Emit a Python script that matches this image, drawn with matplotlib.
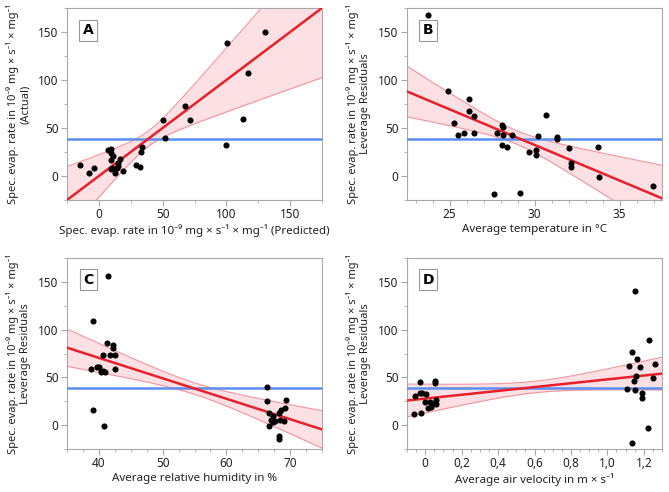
import numpy as np
import matplotlib
matplotlib.use("Agg")
import matplotlib.pyplot as plt
from matplotlib.ticker import MultipleLocator, FuncFormatter

plt.rcParams['font.family'] = ['Noto Sans', 'DejaVu Sans']

# A - actual by predicted plot
a_pred = [-15.1, -7.8, -3.9, 7.3, 9.8, 9.3, 11.0, 9.3, 9.6, 12.1, 12.9, 14.2, 15.3,
          16.8, 18.9, 15.2, 10.5, 29.0, 31.9, 33.1, 34.2, 50.2, 52.2, 67.7, 71.6,
          99.7, 100.5, 113.2, 116.8, 130.2]
a_actual = [11.1, 3.5, 8.0, 26.7, 28.4, 24.2, 20.8, 16.3, 6.9, 7.7, 3.5, 8.7, 13.9,
            18.0, 5.2, 10.4, 8.0, 11.4, 9.4, 25.0, 30.6, 57.9, 39.2, 72.8, 58.6,
            31.9, 138.6, 58.9, 106.8, 150.1]

# B - leverage plot, temperature
b_temp = [23.76, 24.9, 25.29, 25.49, 25.83, 26.15, 26.17, 26.44, 26.46, 27.8, 28.1,
          28.15, 28.15, 28.65, 28.1, 28.38, 27.62, 29.17, 29.7, 30.1, 30.1, 30.22,
          30.7, 31.3, 31.3, 32.05, 32.15, 32.15, 33.72, 33.82, 36.98]
b_resid = [168, 88.3, 55.4, 43, 44.7, 79.7, 67.9, 63, 44.3, 45, 53, 50.9, 43, 43,
           32.6, 30.5, -19, -17.3, 24.6, 26.7, 21.5, 41.6, 63.4, 40.9, 38.4, 29.1,
           13.9, 9, 30.1, -1.4, -10.7]

# C - leverage plot, relative humidity
c_hum = [41.46, 39.1, 38.7, 39.06, 39.74, 40.0, 40.26, 40.68, 40.94, 40.57, 41.2,
         41.72, 42.29, 42.29, 42.55, 42.6, 40.78,
         66.3, 66.3, 69.3, 66.67, 68.54, 69.2, 68.33, 67.24, 67.0, 67.34, 68.4,
         69.06, 66.67, 68.33, 68.33, 67.6]
c_resid = [156.6, 108.6, 58.5, 16, 61.3, 61.3, 55.7, 56.7, 56, 73.1, 86, 73.1, 83.5,
           80.8, 73.8, 59.2, -0.7,
           39.7, 25.4, 25.8, 13.2, 16, 18.4, 13.2, 9.7, 5.6, 2.8, 5.6, 3.8, -0.7,
           -11.1, -14.6, 4.5]

# D - leverage plot, air velocity
d_vel = [-0.027, 0.053, 0.053, -0.057, -0.027, -0.016, 0.002, 0.0, 0.029, 0.037,
         0.057, 0.057, 0.016, 0.031, -0.059, -0.022,
         1.152, 1.231, 1.137, 1.163, 1.117, 1.181, 1.26, 1.156, 1.249, 1.145, 1.11,
         1.154, 1.19, 1.19, 1.224, 1.136]
d_resid = [45.2, 46.3, 43.9, 30.6, 34.1, 33.4, 32.4, 24.7, 24.0, 22.3, 25.8, 21.6,
           17.8, 18.8, 11.8, 13.2,
           140.6, 89.1, 76.6, 69.3, 62.3, 60.6, 64.0, 51.9, 49.4, 45.9, 38.3, 37.2,
           33.4, 28.9, -3.5, -18.8]

mean_rate = 39.0

# fitted lines (intercept, slope)
a_fit = (0.0, 1.0)
b_fit = (255.0, -7.42)
c_fit = (156.0, -2.14)
d_fit = (27.8, 20.1)

# confidence curves (centre x, half width at centre, growth per x unit)
a_band = (39.0, 8.0, 0.53)
b_band = (28.95, 7.0, 3.94)
c_band = (55.0, 6.0, 0.93)
d_band = (0.6, 6.0, 23.0)

ylab1 = 'Spec. evap. rate in 10⁻⁹ mg × s⁻¹ × mg⁻¹'

fig = plt.figure(figsize=(6.69, 4.92), dpi=100)
W, H = 669, 492


def make_ax(l, t, r, b):
    return fig.add_axes([l / W, 1 - b / H, (r - l) / W, (b - t) / H])


def panel(ax, x, y, fit, band, xlim, xmajor, xminor, xlabel, ylab2, letter, comma=False):
    xs = np.linspace(xlim[0], xlim[1], 300)
    line = fit[0] + fit[1] * xs
    hw = np.sqrt(band[1] ** 2 + (band[2] * (xs - band[0])) ** 2)
    ax.fill_between(xs, line - hw, line + hw, color='#fde0e3', lw=0, zorder=1)
    ax.plot(xs, line - hw, color='#f4949c', lw=0.8, zorder=2)
    ax.plot(xs, line + hw, color='#f4949c', lw=0.8, zorder=2)
    ax.axhline(mean_rate, color='#5b8ef0', lw=1.8, zorder=3)
    ax.plot(xs, line, color='#e8202c', lw=1.8, zorder=4)
    ax.plot(x, y, 'o', color='black', ms=4.4, mec='none', zorder=5)

    ax.set_xlim(xlim)
    ax.set_ylim(-25, 175)
    ax.xaxis.set_major_locator(MultipleLocator(xmajor))
    ax.xaxis.set_minor_locator(MultipleLocator(xminor))
    ax.yaxis.set_major_locator(MultipleLocator(50))
    ax.yaxis.set_minor_locator(MultipleLocator(25))
    if comma:
        ax.xaxis.set_major_formatter(FuncFormatter(
            lambda v, p: '0' if abs(v) < 1e-9 else f'{v:.1f}'.replace('.', ',')))
    for s in ax.spines.values():
        s.set_color('#a8a8a8')
    ax.tick_params(which='major', length=4, color='#a8a8a8', labelsize=8.5,
                   labelcolor='#222222', pad=2)
    ax.tick_params(which='minor', length=2.5, color='#a8a8a8')
    ax.set_xlabel(xlabel, fontsize=8.3, color='#222222', labelpad=2)
    ax.set_ylabel(ylab1 + '\n' + ylab2, fontsize=8.0, color='#222222',
                  linespacing=1.15, labelpad=5)
    ax.text(0.083, 0.885, letter, transform=ax.transAxes, ha='center', va='center',
            fontsize=10, fontweight='bold', family='DejaVu Sans', zorder=6,
            bbox=dict(boxstyle='square,pad=0.25', fc='white', ec='#999999', lw=0.8))


axA = make_ax(67, 8, 322, 200)
axB = make_ax(407, 8, 662, 200)
axC = make_ax(67, 258, 322, 449)
axD = make_ax(407, 258, 662, 449)

panel(axA, a_pred, a_actual, a_fit, a_band, (-25, 175), 50, 25,
      'Spec. evap. rate in 10⁻⁹ mg × s⁻¹ × mg⁻¹ (Predicted)', '(Actual)', 'A')
panel(axB, b_temp, b_resid, b_fit, b_band, (22.5, 37.5), 5, 1,
      'Average temperature in °C', 'Leverage Residuals', 'B')
panel(axC, c_hum, c_resid, c_fit, c_band, (35, 75), 10, 2.5,
      'Average relative humidity in %', 'Leverage Residuals', 'C')
panel(axD, d_vel, d_resid, d_fit, d_band, (-0.1, 1.3), 0.2, 0.05,
      'Average air velocity in m × s⁻¹', 'Leverage Residuals', 'D', comma=True)

fig.savefig('out.png', dpi=100)
